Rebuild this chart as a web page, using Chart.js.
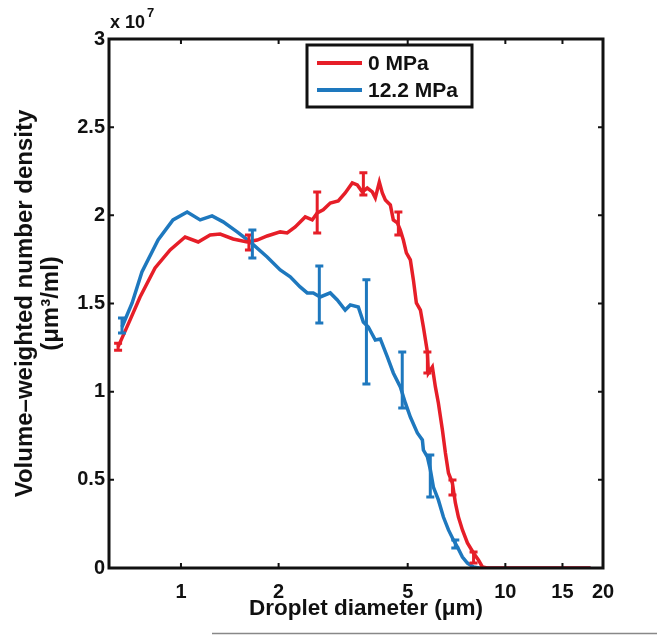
<!DOCTYPE html>
<html><head><meta charset="utf-8">
<script src="https://cdn.jsdelivr.net/npm/chart.js@4.4.1/dist/chart.umd.min.js"></script>
<style>html,body{margin:0;padding:0;background:#fff}#wrap{width:657px;height:635px;position:relative}</style>
</head><body><div id="wrap"><canvas id="c" width="657" height="635"></canvas></div>
<script>
// Data (y in units of 1e7 µm³/ml)
const seriesNames = ['0 MPa', '12.2 MPa'];
const redX = [0.640,0.697,0.748,0.832,0.926,1.030,1.130,1.230,1.321,1.448,1.600,1.718,1.844,2.023,2.125,2.250,2.416,2.539,2.631,2.745,2.886,3.054,3.208,3.374,3.496,3.623,3.752,3.889,3.973,4.088,4.176,4.267,4.420,4.515,4.646,4.745,4.848,4.953,5.095,5.206,5.317,5.472,5.589,5.750,5.791,5.957,6.086,6.216,6.397,6.535,6.678,6.866,7.014,7.167,7.374,7.640,7.975,8.261,8.497,8.8,18.3];
const redY = [1.254,1.407,1.537,1.702,1.804,1.877,1.849,1.889,1.894,1.866,1.849,1.860,1.883,1.906,1.900,1.934,1.991,1.974,2.014,2.031,2.070,2.082,2.127,2.184,2.172,2.133,2.155,2.133,2.099,2.189,2.127,2.087,2.059,1.974,1.957,1.917,1.860,1.787,1.747,1.634,1.503,1.463,1.367,1.225,1.106,1.140,1.027,0.936,0.783,0.652,0.539,0.482,0.369,0.289,0.216,0.142,0.085,0.045,0.006,0,0];
const blueX = [0.658,0.707,0.758,0.850,0.945,1.045,1.146,1.247,1.349,1.490,1.634,1.844,2.023,2.172,2.330,2.450,2.558,2.687,2.886,3.033,3.208,3.326,3.521,3.649,3.781,3.973,4.117,4.327,4.515,4.745,4.918,5.095,5.355,5.549,5.589,5.750,5.873,6.000,6.216,6.443,6.678,6.917,7.116,7.374,7.640,7.975,8.3,18.3];
const blueY = [1.367,1.503,1.679,1.860,1.974,2.019,1.974,1.997,1.963,1.906,1.849,1.764,1.690,1.651,1.594,1.560,1.560,1.537,1.560,1.520,1.463,1.492,1.480,1.395,1.367,1.293,1.299,1.197,1.106,1.027,0.936,0.856,0.766,0.726,0.669,0.630,0.556,0.459,0.386,0.289,0.216,0.159,0.119,0.062,0.028,0.006,0,0];
// Error bars
const redErrX  = [0.640,1.620,2.630,3.650,4.680,5.750,6.870,7.980];
const redErrLo = [1.235,1.804,1.900,2.116,1.889,1.106,0.414,0.028];
const redErrHi = [1.275,1.889,2.133,2.241,2.019,1.225,0.499,0.091];
const blueErrX  = [0.658,1.660,2.670,3.730,4.810,5.870,7.010];
const blueErrLo = [1.333,1.758,1.390,1.044,0.908,0.403,0.113];
const blueErrHi = [1.418,1.917,1.713,1.634,1.225,0.641,0.159];
const xTicks = [1, 2, 5, 10, 15, 20];
const yTicks = [0, 0.5, 1, 1.5, 2, 2.5, 3];
const xTitle = 'Droplet diameter (μm)';
const yTitle = ['Volume–weighted number density', '(μm³/ml)'];

const RED = 'rgb(230,30,40)';
const BLUE = 'rgb(30,120,190)';
const FONT = '"Liberation Sans", Arial, Helvetica, sans-serif';

const toPts = (xs, ys) => xs.map((x, i) => ({x, y: ys[i]}));

const overlay = {
  id: 'overlay',
  afterDatasetsDraw(chart) {
    const {ctx, chartArea: a, scales: {x, y}} = chart;
    ctx.save();
    // error bars
    const drawErr = (xs, lo, hi, col) => {
      ctx.strokeStyle = col; ctx.lineWidth = 3; ctx.lineCap = 'butt';
      xs.forEach((v, i) => {
        const px = x.getPixelForValue(v);
        const p1 = y.getPixelForValue(lo[i]), p2 = y.getPixelForValue(hi[i]);
        ctx.beginPath();
        ctx.moveTo(px, p1); ctx.lineTo(px, p2);
        ctx.moveTo(px - 4, p1); ctx.lineTo(px + 4, p1);
        ctx.moveTo(px - 4, p2); ctx.lineTo(px + 4, p2);
        ctx.stroke();
      });
    };
    drawErr(redErrX, redErrLo, redErrHi, RED);
    drawErr(blueErrX, blueErrLo, blueErrHi, BLUE);
    // frame
    ctx.strokeStyle = '#111'; ctx.lineWidth = 3;
    ctx.strokeRect(a.left, a.top, a.right - a.left, a.bottom - a.top);
    // inward ticks
    ctx.lineWidth = 2;
    ctx.beginPath();
    xTicks.forEach(v => {
      const px = x.getPixelForValue(v);
      ctx.moveTo(px, a.bottom); ctx.lineTo(px, a.bottom - 5);
      ctx.moveTo(px, a.top); ctx.lineTo(px, a.top + 5);
    });
    yTicks.forEach(v => {
      const py = y.getPixelForValue(v);
      ctx.moveTo(a.left, py); ctx.lineTo(a.left + 5, py);
      ctx.moveTo(a.right, py); ctx.lineTo(a.right - 5, py);
    });
    ctx.stroke();
    // exponent label
    ctx.fillStyle = '#111';
    ctx.textBaseline = 'alphabetic'; ctx.textAlign = 'left';
    ctx.font = 'bold 18px ' + FONT;
    ctx.fillText('x 10', a.left + 1, a.top - 11);
    const w = ctx.measureText('x 10').width;
    ctx.font = 'bold 13px ' + FONT;
    ctx.fillText('7', a.left + 3 + w, a.top - 22);
    // x axis title
    ctx.font = 'bold 22.5px ' + FONT;
    ctx.textAlign = 'center'; ctx.textBaseline = 'middle';
    ctx.fillText(xTitle, 366, 609);
    ctx.textAlign = 'left';
    // legend
    const lx = 307, ly = 45, lw = 165, lh = 62;
    ctx.fillStyle = '#fff';
    ctx.fillRect(lx, ly, lw, lh);
    ctx.strokeStyle = '#111'; ctx.lineWidth = 3;
    ctx.strokeRect(lx, ly, lw, lh);
    const rows = [[seriesNames[0], RED, 63], [seriesNames[1], BLUE, 90]];
    ctx.font = 'bold 21px ' + FONT;
    ctx.textBaseline = 'middle';
    rows.forEach(([t, c, yy]) => {
      ctx.strokeStyle = c; ctx.lineWidth = 4;
      ctx.beginPath(); ctx.moveTo(317, yy); ctx.lineTo(362, yy); ctx.stroke();
      ctx.fillStyle = '#111';
      ctx.fillText(t, 368, yy + 1);
    });
    // bottom rule
    ctx.strokeStyle = '#888'; ctx.lineWidth = 1.5;
    ctx.beginPath(); ctx.moveTo(212, 633.5); ctx.lineTo(657, 633.5); ctx.stroke();
    ctx.restore();
  }
};

new Chart(document.getElementById('c'), {
  type: 'line',
  data: {
    datasets: [
      {label: seriesNames[0], data: toPts(redX, redY), borderColor: RED, borderWidth: 3.5, pointRadius: 0, tension: 0, fill: false},
      {label: seriesNames[1], data: toPts(blueX, blueY), borderColor: BLUE, borderWidth: 3.5, pointRadius: 0, tension: 0, fill: false}
    ]
  },
  options: {
    responsive: false,
    animation: false,
    devicePixelRatio: 1,
    layout: {padding: {left: 0, right: 54, top: 39, bottom: 0}},
    plugins: {legend: {display: false}, tooltip: {enabled: false}},
    scales: {
      x: {
        type: 'logarithmic', min: 0.6, max: 20,
        afterBuildTicks: s => { s.ticks = xTicks.map(v => ({value: v})); },
        afterFit: s => { s.height = 67; },
        grid: {display: false, drawTicks: false}, border: {display: false},
        ticks: {color: '#111', font: {family: FONT, size: 20, weight: 'bold'}, padding: 12, maxRotation: 0, autoSkip: false,
                callback: v => String(v)},
        title: {display: false, text: xTitle}
      },
      y: {
        type: 'linear', min: 0, max: 3,
        afterBuildTicks: s => { s.ticks = yTicks.map(v => ({value: v})); },
        afterFit: s => { s.width = 109; },
        grid: {display: false, drawTicks: false}, border: {display: false},
        ticks: {color: '#111', font: {family: FONT, size: 20, weight: 'bold'}, padding: 4,
                callback: v => String(v)},
        title: {display: true, text: yTitle, color: '#111', font: {family: FONT, size: 24, weight: 'bold', lineHeight: 1.1}, padding: {top: 12}}
      }
    }
  },
  plugins: [overlay]
});
</script></body></html>
